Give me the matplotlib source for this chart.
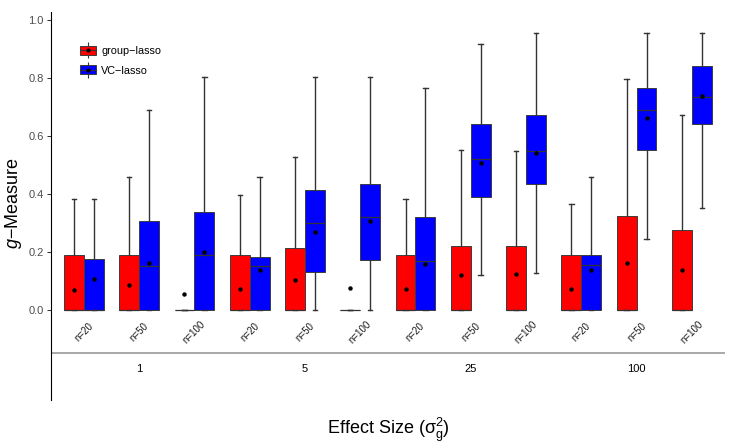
import numpy as np
import matplotlib.pyplot as plt
from matplotlib.patches import Patch
from matplotlib.lines import Line2D

plt.rcParams['font.family'] = ['Liberation Sans', 'DejaVu Sans']
plt.rcParams['mathtext.fontset'] = 'custom'
plt.rcParams['mathtext.rm'] = 'Liberation Sans'
plt.rcParams['mathtext.it'] = 'Liberation Sans:italic'

effects = ['1', '5', '25', '100']
sizes = ['n=20', 'n=50', 'n=100']
methods = ['group\u2212lasso', 'VC\u2212lasso']

# group-lasso (red), one value per (effect, n) cell
red_lo = [0, 0, 0, 0, 0, 0, 0, 0, 0, 0, 0, 0]
red_q1 = [0, 0, 0, 0, 0, 0, 0, 0, 0, 0, 0, 0]
red_med = [0, 0, 0, 0, 0, 0, 0, 0, 0, 0, 0, 0]
red_q3 = [0.191, 0.191, 0.0, 0.191, 0.214, 0.0, 0.191, 0.222, 0.222, 0.191, 0.326, 0.277]
red_hi = [0.384, 0.460, 0.0, 0.398, 0.529, 0.0, 0.383, 0.553, 0.551, 0.368, 0.798, 0.675]
red_mean = [0.072, 0.086, 0.057, 0.074, 0.104, 0.076, 0.074, 0.122, 0.125, 0.075, 0.164, 0.141]

# VC-lasso (blue)
blue_lo = [0, 0, 0, 0, 0, 0, 0, 0.122, 0.130, 0, 0.245, 0.352]
blue_q1 = [0, 0, 0, 0, 0.134, 0.175, 0, 0.391, 0.437, 0, 0.552, 0.643]
blue_med = [0, 0.153, 0.191, 0.152, 0.300, 0.323, 0.171, 0.523, 0.551, 0.155, 0.691, 0.737]
blue_q3 = [0.178, 0.307, 0.338, 0.184, 0.414, 0.437, 0.322, 0.644, 0.675, 0.191, 0.767, 0.843]
blue_hi = [0.384, 0.691, 0.805, 0.460, 0.805, 0.805, 0.767, 0.920, 0.958, 0.460, 0.958, 0.958]
blue_mean = [0.109, 0.164, 0.200, 0.139, 0.270, 0.309, 0.161, 0.508, 0.543, 0.141, 0.665, 0.740]


def stats(lo, q1, med, q3, hi, mean):
    return [dict(whislo=a, q1=b, med=c, q3=d, whishi=e, mean=f, fliers=[])
            for a, b, c, d, e, f in zip(lo, q1, med, q3, hi, mean)]


red_stats = stats(red_lo, red_q1, red_med, red_q3, red_hi, red_mean)
blue_stats = stats(blue_lo, blue_q1, blue_med, blue_q3, blue_hi, blue_mean)

fig = plt.figure(figsize=(7.29, 4.48), dpi=100)
ax = fig.add_axes([50.7/729, 1-400/448, (725-50.7)/729, (400-12)/448])

pos = np.arange(len(effects)*len(sizes))
for st, off, col in [(red_stats, -0.18, 'red'), (blue_stats, 0.18, 'blue')]:
    ax.bxp(st, positions=pos+off, widths=0.36, capwidths=0.08, patch_artist=True,
           showmeans=True, showfliers=False, manage_ticks=False,
           boxprops=dict(facecolor=col, edgecolor='#3c3c3c', linewidth=0.7),
           medianprops=dict(color='#333333', linewidth=0.9),
           whiskerprops=dict(color='#333333', linewidth=1.0),
           capprops=dict(color='#333333', linewidth=1.0),
           meanprops=dict(marker='o', markersize=2.2, markerfacecolor='black',
                          markeredgecolor='black'))

ax.set_xlim(-0.6, 11.6)
ax.set_ylim(-0.309, 1.029)
ax.set_yticks([0, 0.2, 0.4, 0.6, 0.8, 1.0])
ax.set_yticklabels(['0.0', '0.2', '0.4', '0.6', '0.8', '1.0'])
ax.set_xticks([])
for s in ['top', 'right', 'bottom']:
    ax.spines[s].set_visible(False)
ax.spines['left'].set_linewidth(0.8)
ax.tick_params(axis='y', length=3, width=0.75, color='#333333',
               labelcolor='#4d4d4d', labelsize=8, pad=2)

for i in pos:
    ax.text(i, -0.074, sizes[i % 3], rotation=45, ha='center', va='center',
            fontsize=7, color='#1a1a1a')
for g, lab in enumerate(effects):
    ax.text(3*g+1, -0.202, lab, ha='center', va='center', fontsize=8)
ax.axhline(-0.1476, color='#9a9a9a', lw=1.2)


def key(col):
    return (Line2D([], [], ls='none', marker='|', ms=12, mew=0.8, color='#333333'),
            Patch(facecolor=col, edgecolor='#3c3c3c', linewidth=0.7),
            Line2D([], [], color='#333333', lw=0.8),
            Line2D([], [], ls='none', marker='o', ms=2, color='black'))


ax.legend([key('red'), key('blue')], methods, loc='upper left',
          bbox_to_anchor=(80/729, 1-46/448), bbox_transform=fig.transFigure,
          frameon=False, fontsize=7.8, handlelength=1.5, handleheight=0.9,
          handletextpad=0.45, labelspacing=0.85, borderpad=0, borderaxespad=0)

fig.text(388/729, 1-434/448, r'Effect Size ($\mathregular{\sigma_g^2}$)',
         ha='center', va='baseline', fontsize=13)
fig.text(14/729, 1-203/448, '$g$\u2212Measure', rotation=90,
         ha='center', va='center', fontsize=13)

fig.savefig('out.png', dpi=100)
